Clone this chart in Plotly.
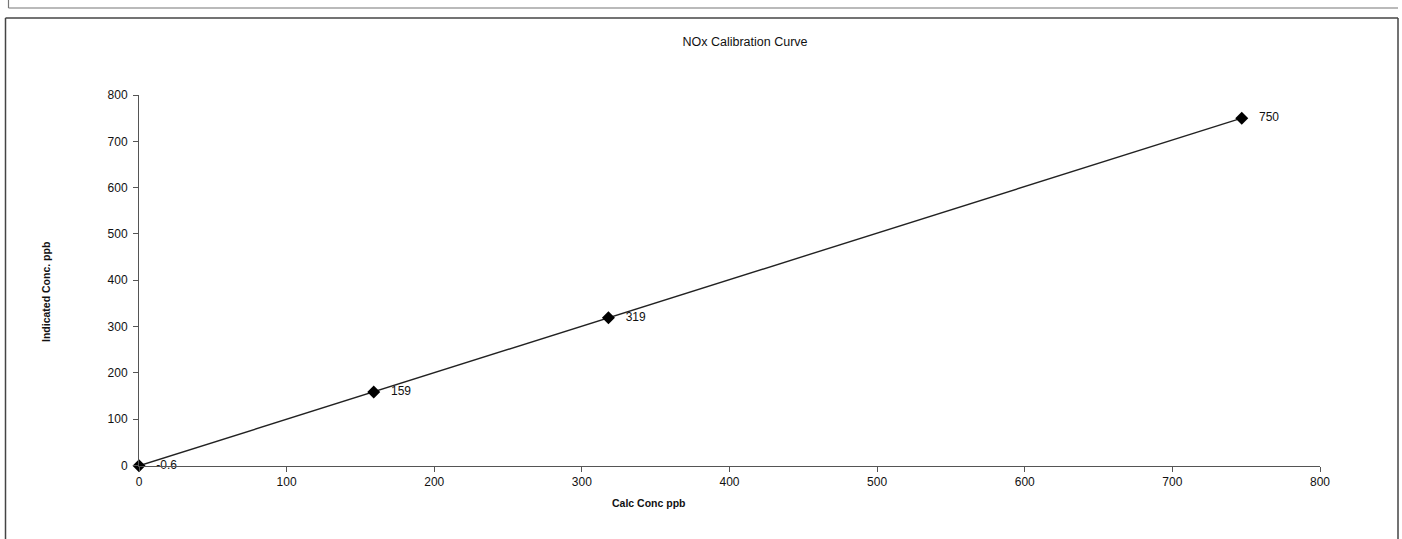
import plotly.graph_objects as go

# Calibration points: calculated vs indicated NOx concentration (ppb)
calc_conc = [0, 159, 318, 747]
indicated_conc = [-0.6, 159, 319, 750]
point_labels = ["-0.6", "159", "319", "750"]

x_ticks = [0, 100, 200, 300, 400, 500, 600, 700, 800]
y_ticks = [0, 100, 200, 300, 400, 500, 600, 700, 800]

FONT = "Liberation Sans, Arial, sans-serif"

# plot area in pixels (left, right, top, bottom)
W, H = 1402, 539
L, R, T, B = 139, 1320, 95, 466


def px_x(p):
    return (p - L) / (R - L)


def px_y(p):
    return (B - p) / (B - T)


fig = go.Figure()
fig.add_trace(go.Scatter(
    x=calc_conc,
    y=indicated_conc,
    mode="lines+markers+text",
    text=["   " + t for t in point_labels],
    textposition="middle right",
    textfont=dict(family=FONT, size=12, color="#111"),
    line=dict(color="#222", width=1.4),
    marker=dict(symbol="diamond", size=10, color="#000"),
    cliponaxis=False,
    showlegend=False,
))

frame = dict(color="#444", width=1.5)
shapes = [
    # chart border
    dict(type="line", xref="paper", yref="paper", x0=px_x(5.5), x1=px_x(1398), y0=px_y(18), y1=px_y(18), line=frame),
    dict(type="line", xref="paper", yref="paper", x0=px_x(5.5), x1=px_x(5.5), y0=px_y(18), y1=px_y(540), line=frame),
    dict(type="line", xref="paper", yref="paper", x0=px_x(1398), x1=px_x(1398), y0=px_y(18), y1=px_y(540), line=frame),
    # bottom of the box above
    dict(type="line", xref="paper", yref="paper", x0=px_x(8.5), x1=px_x(1398), y0=px_y(8), y1=px_y(8),
         line=dict(color="#777", width=1.2)),
    dict(type="line", xref="paper", yref="paper", x0=px_x(8.5), x1=px_x(8.5), y0=px_y(-1), y1=px_y(8),
         line=dict(color="#777", width=1.2)),
]

annotations = [
    dict(text="<b>Calc Conc ppb</b>", xref="paper", yref="paper", x=px_x(649), y=px_y(503),
         xanchor="center", yanchor="middle", showarrow=False,
         font=dict(family=FONT, size=10.5, color="#111")),
    dict(text="<b>Indicated Conc. ppb</b>", xref="paper", yref="paper", x=px_x(46), y=px_y(292),
         xanchor="center", yanchor="middle", showarrow=False, textangle=-90,
         font=dict(family=FONT, size=10.5, color="#111")),
]

axis_common = dict(
    showgrid=False,
    zeroline=False,
    showline=True,
    linecolor="#555",
    linewidth=1,
    ticks="outside",
    ticklen=5,
    tickcolor="#555",
    tickfont=dict(family=FONT, size=12, color="#111"),
)

fig.update_layout(
    width=W,
    height=H,
    margin=dict(l=L, r=W - R, t=T, b=H - B, pad=0),
    paper_bgcolor="white",
    plot_bgcolor="white",
    font=dict(family=FONT, size=12, color="#111"),
    title=dict(
        text="NOx Calibration Curve",
        x=px_x(745), xref="paper", xanchor="center",
        y=1 - 42 / H, yref="container", yanchor="middle",
        font=dict(family=FONT, size=12.5, color="#111"),
    ),
    shapes=shapes,
    annotations=annotations,
    xaxis=dict(range=[0, 800], tickvals=x_ticks, ticktext=[str(v) for v in x_ticks], **axis_common),
    yaxis=dict(range=[-1, 800], tickvals=y_ticks, ticktext=[str(v) for v in y_ticks],
               ticklabelstandoff=3, **axis_common),
)

fig.write_html("out.html")
